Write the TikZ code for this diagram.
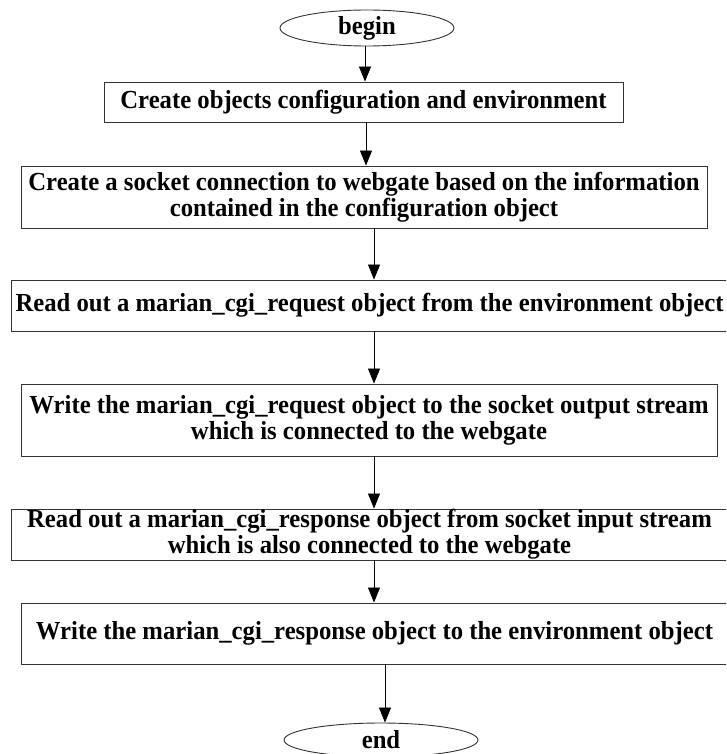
\documentclass[tikz,border=0pt]{standalone}
\usepackage{fontspec}
\setmainfont{Liberation Serif}[FakeStretch=0.95]
\usetikzlibrary{arrows.meta,shapes.geometric}
\begin{document}
\begin{tikzpicture}[x=1pt,y=-1pt,
  every node/.style={font=\fontsize{26}{26}\selectfont\bfseries},
  stepbox/.style={draw=black!80, line width=0.9pt, rectangle, inner sep=0pt, align=center},
  term/.style={draw=black!80, line width=0.9pt, ellipse, inner sep=0pt},
  flow/.style={draw=black, line width=0.8pt, -{Triangle[width=12pt,length=15pt]}}]
\clip (0,0) rectangle (726,754);

% terminals
\node[term, minimum width=174pt, minimum height=36pt] (begin) at (367,28) {begin};
\node[term, minimum width=194pt, minimum height=34pt] (end) at (381,740) {end};

% process steps
\node[stepbox, minimum width=519pt, minimum height=40pt] (s1) at (363.5,102)
  {Create objects configuration and environment};
\node[stepbox, minimum width=686pt, minimum height=62pt] (s2) at (364,197)
  {Create a socket connection to webgate based on the information\\contained in the configuration object};
\node[stepbox, minimum width=717pt, minimum height=51pt] (s3) at (369.5,305.5)
  {Read out a marian\_cgi\_request object from the environment object};
\node[stepbox, minimum width=696pt, minimum height=72pt] (s4) at (369,420)
  {Write the marian\_cgi\_request object to the socket output stream\\which is connected to the webgate};
\node[stepbox, minimum width=717pt, minimum height=51pt] (s5) at (369.5,534.5)
  {Read out a marian\_cgi\_response object from socket input stream\\which is also connected to the webgate};
\node[stepbox, minimum width=707pt, minimum height=61pt] (s6) at (374.5,633.5)
  {Write the marian\_cgi\_response object to the environment object};

% x positions of the connectors
\coordinate (c1) at (365,0);
\coordinate (c2) at (366,0);
\coordinate (c3) at (374,0);
\coordinate (c7) at (385,0);

\draw[flow] (begin.south -| c1) -- (s1.north -| c1);
\draw[flow] (s1.south -| c2) -- (s2.north -| c2);
\draw[flow] (s2.south -| c3) -- (s3.north -| c3);
\draw[flow] (s3.south -| c3) -- (s4.north -| c3);
\draw[flow] (s4.south -| c3) -- (s5.north -| c3);
\draw[flow] (s5.south -| c3) -- (s6.north -| c3);
\draw[flow] (s6.south -| c7) -- (end.north -| c7);
\end{tikzpicture}
\end{document}
